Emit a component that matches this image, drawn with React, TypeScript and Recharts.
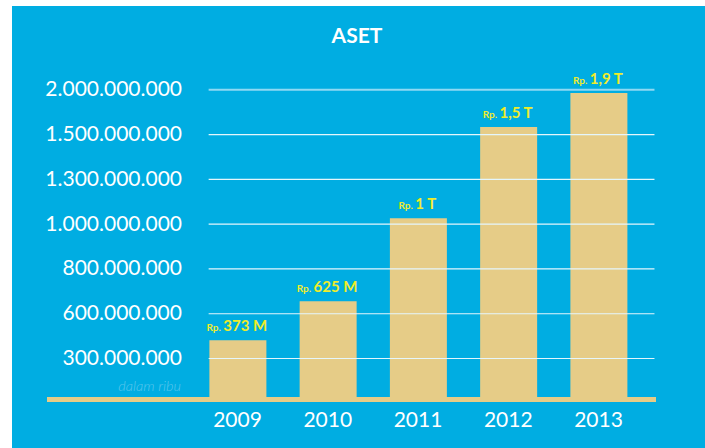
import React from "react";
import { BarChart, Bar, XAxis, YAxis, ReferenceLine, LabelList } from "recharts";

const years = [2009, 2010, 2011, 2012, 2013];
// bar heights, in gridline steps (the axis labels are not linear)
const barLevels = [1.41, 2.28, 4.13, 6.17, 6.93];
const valueLabels = ["373 M", "625 M", "1 T", "1,5 T", "1,9 T"];
const gridLevels = [1, 2, 3, 4, 5, 6, 7];
const gridLabels = [
  "300.000.000",
  "600.000.000",
  "800.000.000",
  "1.000.000.000",
  "1.300.000.000",
  "1.500.000.000",
  "2.000.000.000",
];

const BLUE = "#00ADE2";
const BEIGE = "#E6CC87";
const YELLOW = "#F0EC2A";
const FONT = "Lato, 'Open Sans', sans-serif";

const data = years.map((year, i) => ({ year, value: barLevels[i], label: valueLabels[i] }));

const YTick = (props: any) => {
  const { y, payload } = props;
  const i = gridLevels.indexOf(payload.value);
  return (
    <text x={182} y={y - 2} textAnchor="end" dominantBaseline="central" fill="#ffffff" fontSize={21} fontFamily={FONT}>
      {gridLabels[i]}
    </text>
  );
};

const XTick = (props: any) => {
  const { x, y, payload } = props;
  return (
    <text x={x} y={y} dy={19} textAnchor="middle" dominantBaseline="central" fill="#ffffff" fontSize={21} fontFamily={FONT}>
      {payload.value}
    </text>
  );
};

const ValueLabel = (props: any) => {
  const { x, y, width, value } = props;
  return (
    <text x={x + width / 2 - 1} y={y - 9} textAnchor="middle" fill={YELLOW} fontFamily={FONT} fontWeight="bold">
      <tspan fontSize={10}>Rp. </tspan>
      <tspan fontSize={15}>{value}</tspan>
    </text>
  );
};

export default function App() {
  return (
    <div style={{ position: "absolute", left: 0, top: 0, width: 705, height: 448, background: "#ffffff" }}>
      <div style={{ position: "absolute", left: 12, top: 6, width: 693, height: 442, background: BLUE }} />
      <div
        style={{
          position: "absolute",
          left: 0,
          top: 22,
          width: 714,
          textAlign: "center",
          color: "#ffffff",
          fontFamily: FONT,
          fontWeight: "bold",
          fontSize: 21,
        }}
      >
        ASET
      </div>
      <div
        style={{
          position: "absolute",
          right: 705 - 181,
          top: 377,
          color: "#5CC6EC",
          fontFamily: FONT,
          fontStyle: "italic",
          fontWeight: 300,
          fontSize: 14.5,
        }}
      >
        dalam ribu
      </div>
      <div style={{ position: "absolute", left: 0, top: 0 }}>
        <BarChart width={705} height={448} data={data} margin={{ top: 60, right: 49, bottom: 18.5, left: 27 }}>
          <XAxis
            dataKey="year"
            type="number"
            domain={[2006.889, 2013.637]}
            allowDataOverflow
            ticks={years}
            height={30}
            axisLine={{ stroke: BEIGE, strokeWidth: 5 }}
            tickLine={false}
            tickSize={0}
            tickMargin={0}
            tick={<XTick />}
          />
          <YAxis
            type="number"
            domain={[0.085, 7.665]}
            allowDataOverflow
            ticks={gridLevels}
            width={20}
            axisLine={false}
            tickLine={false}
            tick={<YTick />}
          />
          {gridLevels.map((g, i) => (
            <ReferenceLine
              key={g}
              segment={[
                { x: 2008.68, y: g },
                { x: 2013.62, y: g },
              ]}
              stroke={i === gridLevels.length - 1 ? "#8FD9F3" : "#E4F6FC"}
              strokeWidth={i === gridLevels.length - 1 ? 2 : 1.2}
            />
          ))}
          <Bar dataKey="value" fill={BEIGE} barSize={57} isAnimationActive={false}>
            <LabelList dataKey="label" content={<ValueLabel />} />
          </Bar>
        </BarChart>
      </div>
    </div>
  );
}
